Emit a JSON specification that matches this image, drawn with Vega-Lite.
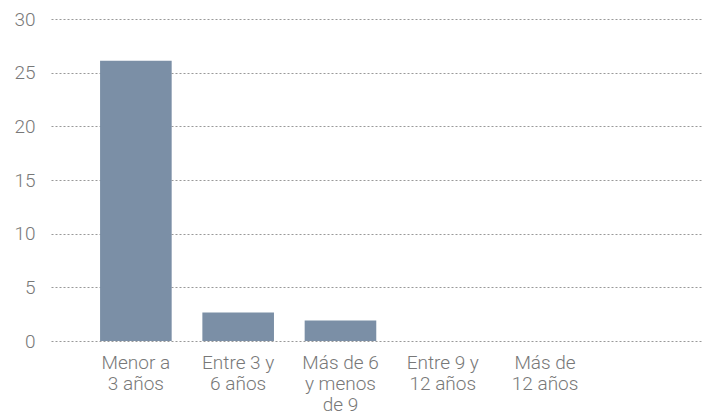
{
  "$schema": "https://vega.github.io/schema/vega-lite/v6.json",
  "autosize": {"type": "none"},
  "width": 650,
  "height": 322,
  "padding": {"left": 51, "top": 19, "right": 11, "bottom": 75},
  "background": "white",
  "config": {"view": {"stroke": null}},
  "data": {
    "values": [
      {"categoria": "Menor a|3 años", "valor": 26.1},
      {"categoria": "Entre 3 y|6 años", "valor": 2.65},
      {"categoria": "Más de 6|y menos|de 9", "valor": 1.9},
      {"categoria": "Entre 9 y|12 años", "valor": 0},
      {"categoria": "Más de|12 años", "valor": 0}
    ]
  },
  "mark": {"type": "bar", "color": "#7b8fa6"},
  "encoding": {
    "x": {
      "field": "categoria",
      "type": "nominal",
      "sort": null,
      "title": null,
      "scale": {"paddingInner": 0.3, "paddingOuter": 0.827, "align": 0.29},
      "axis": {
        "labelExpr": "split(datum.label, '|')",
        "labelAngle": 0,
        "labelFont": "Roboto",
        "labelFontWeight": 300,
        "labelFontSize": 19,
        "labelColor": "#787878",
        "labelLineHeight": 21,
        "labelPadding": 12,
        "labelBaseline": "top",
        "ticks": false,
        "domain": false,
        "grid": false
      }
    },
    "y": {
      "field": "valor",
      "type": "quantitative",
      "title": null,
      "scale": {"domain": [0, 30], "nice": false},
      "axis": {
        "values": [0, 5, 10, 15, 20, 25, 30],
        "labelFont": "Roboto",
        "labelFontWeight": 300,
        "labelFontSize": 19,
        "labelColor": "#787878",
        "labelPadding": 16,
        "ticks": false,
        "domain": false,
        "grid": true,
        "gridColor": "#999999",
        "gridDash": [2, 2],
        "gridWidth": 1,
        "zindex": 0
      }
    }
  }
}
